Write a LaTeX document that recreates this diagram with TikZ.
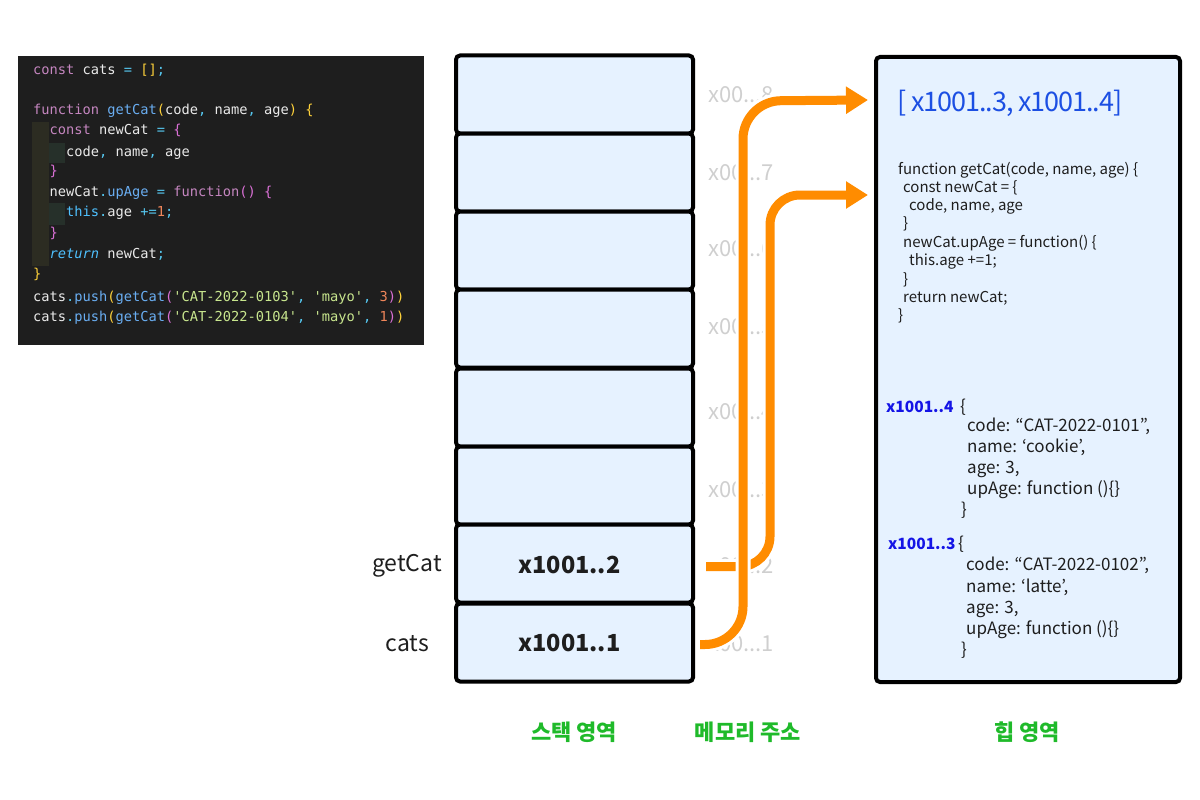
\documentclass[tikz,border=0pt]{standalone}
\usepackage{fontspec}
\setmonofont{DejaVu Sans Mono}
\newfontfamily\kr{Noto Sans CJK KR}
\newfontfamily\krtight{Noto Sans CJK KR}[LetterSpace=-4]
\usetikzlibrary{arrows.meta}
\definecolor{codebg}{HTML}{1E1E1E}
\definecolor{guideA}{HTML}{2C2C22}
\definecolor{guideB}{HTML}{26302A}
\definecolor{ckw}{HTML}{C586C0}
\definecolor{cfn}{HTML}{6AAEF2}
\definecolor{cwh}{HTML}{EAEAEA}
\definecolor{cpo}{HTML}{56C8F0}
\definecolor{cye}{HTML}{FFD23A}
\definecolor{cpk}{HTML}{DA70D6}
\definecolor{cnu}{HTML}{F0865A}
\definecolor{cst}{HTML}{C8E68E}
\definecolor{ccy}{HTML}{4FC1FF}
\definecolor{cellfill}{HTML}{E6F2FF}
\definecolor{addr}{HTML}{CFCFCF}
\definecolor{arrowc}{HTML}{FF8C00}
\definecolor{heapblue}{HTML}{1C4FE3}
\definecolor{objblue}{HTML}{1414E6}
\definecolor{labgreen}{HTML}{1FBA2A}
\definecolor{heaptxt}{HTML}{1E1E1E}
\newcommand\tkw[1]{\textcolor{ckw}{#1}}
\newcommand\tfn[1]{\textcolor{cfn}{#1}}
\newcommand\tpo[1]{\textcolor{cpo}{#1}}
\newcommand\tye[1]{\textcolor{cye}{#1}}
\newcommand\tpk[1]{\textcolor{cpk}{#1}}
\newcommand\tnu[1]{\textcolor{cnu}{#1}}
\newcommand\tst[1]{\textcolor{cst}{#1}}
\newcommand\tcy[1]{\textcolor{ccy}{#1}}
\tikzset{
  codeline/.style={anchor=west, inner sep=0pt, text height=10pt, text depth=3pt,
    text=cwh, font=\ttfamily\fontsize{13.7}{16}\selectfont},
  cell/.style={draw=black, line width=4pt, rounded corners=4pt, fill=cellfill,
    minimum width=237pt, minimum height=78pt, inner sep=0pt},
  celltext/.style={inner sep=0pt, font=\kr\bfseries\fontsize{23.5}{28}\selectfont, text=heaptxt},
  varlabel/.style={anchor=east, inner sep=0pt, font=\kr\fontsize{23}{28}\selectfont, text=heaptxt},
  addrlabel/.style={anchor=west, inner sep=0pt, font=\kr\fontsize{22}{26}\selectfont, text=addr},
  heapline/.style={anchor=west, inner sep=0pt, text height=11pt, text depth=3pt,
    font=\kr\fontsize{15}{18}\selectfont, text=heaptxt},
  objline/.style={anchor=west, inner sep=0pt, text height=12pt, text depth=4pt,
    font=\kr\fontsize{17}{20}\selectfont, text=heaptxt},
  objname/.style={anchor=west, inner sep=0pt, text height=12pt, text depth=4pt,
    font=\kr\bfseries\fontsize{15.5}{20}\selectfont, text=objblue},
  arealabel/.style={inner sep=0pt, font=\kr\bfseries\fontsize{22}{26}\selectfont, text=labgreen},
  halo/.style={draw=white, line width=15pt},
  arr/.style={draw=arrowc, line width=9pt, -{Triangle[length=22pt,width=26pt]}}
}
\begin{document}
\begin{tikzpicture}[x=1pt,y=-1pt]
\useasboundingbox (0,0) rectangle (1200,800);

% code panel
\node[fill=codebg, minimum width=406pt, minimum height=289pt, inner sep=0pt] (code) at (221,200.5) {};
\fill[guideA] (32,122) rectangle (49,266);
\fill[guideB] (49,143) rectangle (65,163);
\fill[guideB] (49,203) rectangle (65,225);
\node[codeline] (c1) at (33,71) {\tkw{const} cats \tpo{=} \tye{[]}\tpo{;}};
\node[codeline] (c3) at (33,111) {\tkw{function} \tfn{getCat}\tye{(}code\tpo{,} name\tpo{,} age\tye{)} \tye{\{}};
\node[codeline] (c4) at (49.5,131) {\tkw{const} newCat \tpo{=} \tpk{\{}};
\node[codeline] (c5) at (66,153) {code\tpo{,} name\tpo{,} age};
\node[codeline] (c6) at (49.5,172) {\tpk{\}}};
\node[codeline] (c7) at (49.5,193) {newCat\tpo{.}\tfn{upAge} \tpo{=} \tkw{function}\tpk{()} \tpk{\{}};
\node[codeline] (c8) at (66,213) {\tcy{this}\tpo{.}age \tpo{+=}\tnu{1}\tpo{;}};
\node[codeline] (c9) at (49.5,234) {\tpk{\}}};
\node[codeline] (c10) at (49.5,255) {\tcy{\itshape return} newCat\tpo{;}};
\node[codeline] (c11) at (33,275) {\tye{\}}};
\node[codeline] (c12) at (33,298) {cats\tpo{.}\tfn{push}\tye{(}\tfn{getCat}\tpk{(}\tst{'CAT-2022-0103'}\tpo{,} \tst{'mayo'}\tpo{,} \tnu{3}\tpk{)}\tye{)}};
\node[codeline] (c13) at (33,318) {cats\tpo{.}\tfn{push}\tye{(}\tfn{getCat}\tpk{(}\tst{'CAT-2022-0104'}\tpo{,} \tst{'mayo'}\tpo{,} \tnu{1}\tpk{)}\tye{)}};

% stack cells
\node[cell] (cell8) at (574.5,94.5) {};
\node[cell] (cell7) at (574.5,172.5) {};
\node[cell] (cell6) at (574.5,250.5) {};
\node[cell] (cell5) at (574.5,328.5) {};
\node[cell] (cell4) at (574.5,407.5) {};
\node[cell] (cell3) at (574.5,485.5) {};
\node[cell] (cell2) at (574.5,563.5) {};
\node[cell] (cell1) at (574.5,642.5) {};
\node[celltext] (val2) at (569.5,565) {x1001..2};
\node[celltext] (val1) at (569.5,643) {x1001..1};
\node[varlabel] (lgetcat) at (442,566) {getCat};
\node[varlabel] (lcats) at (429,644) {cats};

% memory addresses
\node[addrlabel] (m8) at (708,95) {x00...8};
\node[addrlabel] (m7) at (708,173) {x00...7};
\node[addrlabel] (m6) at (708,249) {x00...6};
\node[addrlabel] (m5) at (708,327) {x00...5};
\node[addrlabel] (m4) at (708,412) {x00...4};
\node[addrlabel] (m3) at (708,490) {x00...3};
\node[addrlabel] (m2) at (708,566) {x00...2};
\node[addrlabel] (m1) at (708,644) {x00...1};

% heap
\node[draw=black, line width=4pt, rounded corners=4pt, fill=cellfill,
  minimum width=304pt, minimum height=625pt, inner sep=0pt] (heap) at (1028,369.5) {};
\node[anchor=west, inner sep=0pt, font=\krtight\fontsize{27}{32}\selectfont, text=heapblue] (harr) at (897,103) {[ x1001..3, x1001..4]};
\node[heapline] (f1) at (898,170) {function getCat(code, name, age) \{};
\node[heapline] (f2) at (903,188) {const newCat = \{};
\node[heapline] (f3) at (909,206) {code, name, age};
\node[heapline] (f4) at (903,224) {\}};
\node[heapline] (f5) at (903,243) {newCat.upAge = function() \{};
\node[heapline] (f6) at (909,261) {this.age +=1;};
\node[heapline] (f7) at (903,280) {\}};
\node[heapline] (f8) at (903,298) {return newCat;};
\node[heapline] (f9) at (898,316) {\}};

\node[objname] (o4) at (886,408) {x1001..4};
\node[objline] (o4a) at (960,408) {\{};
\node[objline] (o4b) at (967,427) {code: “CAT-2022-0101”,};
\node[objline] (o4c) at (967,448) {name: ‘cookie’,};
\node[objline] (o4d) at (967,469) {age: 3,};
\node[objline] (o4e) at (967,490) {upAge: function ()\{\}};
\node[objline] (o4f) at (961,511) {\}};

\node[objname] (o3) at (888,545) {x1001..3};
\node[objline] (o3a) at (958,545) {\{};
\node[objline] (o3b) at (966,566) {code: “CAT-2022-0102”,};
\node[objline] (o3c) at (966,588) {name: ‘latte’,};
\node[objline] (o3d) at (966,609) {age: 3,};
\node[objline] (o3e) at (966,630) {upAge: function ()\{\}};
\node[objline] (o3f) at (961,651) {\}};

% arrows
\coordinate (v1) at (743,101);
\coordinate (t1) at (868,100);
\coordinate (v2) at (770,195);
\coordinate (t2) at (868,195);
\draw[halo, rounded corners=30pt] ([xshift=11pt,yshift=-3pt]cell2.east) -| (v2) -- (t2);
\draw[arr, rounded corners=30pt] ([xshift=11pt,yshift=-3pt]cell2.east) -| (v2) -- (t2);
\draw[halo, rounded corners=38pt] ([xshift=5pt,yshift=-2pt]cell1.east) -| (v1) -- (t1);
\draw[arr, rounded corners=38pt] ([xshift=5pt,yshift=-2pt]cell1.east) -| (v1) -- (t1);

% area labels
\node[arealabel] (a1) at (574,732) {스택 영역};
\node[arealabel] (a2) at (748,732) {메모리 주소};
\node[arealabel] (a3) at (1027,732) {힙 영역};
\end{tikzpicture}
\end{document}
